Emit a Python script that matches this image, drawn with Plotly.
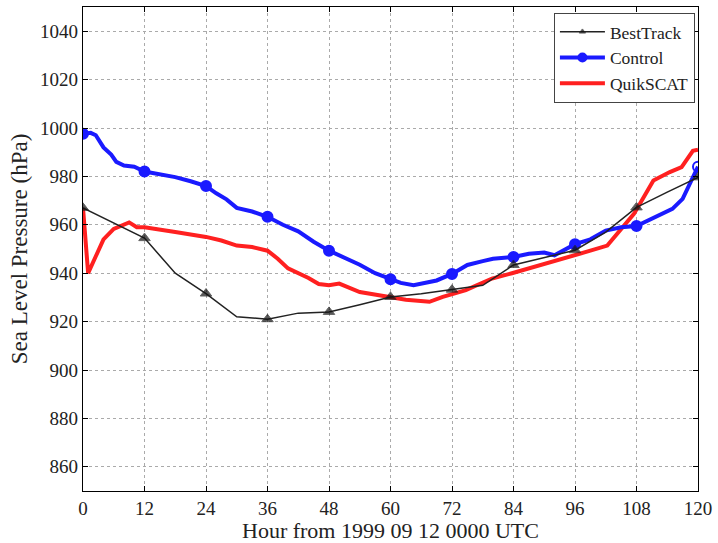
import plotly.graph_objects as go

# BestTrack (6-hourly line, markers every 12 h)
best_hours = [0, 12, 18, 24, 30, 36, 42, 48, 54, 60, 66, 72, 78, 84, 90, 96, 102, 108, 114, 120]
best_vals = [967, 954.5, 940, 931.6, 922, 921, 923.5, 924, 927, 930.2, 931.5, 933.2, 935, 943.4, 946.5, 949.5, 957, 967.2, 973.5, 979.6]

ctrl_hours = [0, 1.5, 2.5, 4, 5.5, 6.5, 8, 10, 12, 15, 18, 21, 24, 26, 28, 30, 33, 36, 39, 42, 45, 48,
              51, 54, 57, 60, 62, 64.5, 67, 69, 72, 75, 78, 80, 84, 87, 90, 92, 96, 99, 102, 105, 108,
              110, 112, 115, 117, 118.7, 120]
ctrl_vals = [997.6, 998, 997, 992, 989, 986, 984.5, 984, 982, 981, 979.7, 978, 976, 973, 970.5, 967, 965.5,
             963.3, 960, 957.3, 953, 949.3, 946.5, 943.5, 940, 937.5, 936, 935, 936, 937, 939.7, 943.4,
             945, 946, 946.7, 948, 948.5, 947.4, 952, 954, 957.6, 959, 959.5, 961.5, 963.8, 966.6, 970.7,
             977.8, 984]

qs_hours = [0, 1, 2.5, 4, 6, 9, 10.5, 12, 18, 24, 27, 30, 33, 36, 38, 40, 44, 46, 48, 50, 54, 57, 60, 63,
            67.6, 70.2, 74.7, 79.8, 83.7, 89.5, 95.9, 99, 102.3, 104.2, 107.5, 109.4, 111.3, 114.5,
            116.8, 119, 120]
qs_vals = [967, 940, 947, 954, 958.3, 961, 959, 959, 957, 955, 953.5, 951.4, 950.8, 949.3, 946, 942, 938,
           935.5, 935, 935.7, 932.2, 931, 930.2, 929, 928.2, 930.2, 933, 937.8, 940, 943.4, 947.4, 949.3,
           951.4, 956.2, 964.5, 971.4, 978.3, 981.8, 983.8, 990.6, 991]

x_ticks = list(range(0, 121, 12))
y_ticks = list(range(860, 1041, 20))

FONT = "Liberation Serif, Times New Roman, serif"
BLUE = "#1a1aff"
RED = "#ff2020"
BLACK = "#111111"

ctrl_marker_hours = [h for h in ctrl_hours if h % 12 == 0]
ctrl_marker_vals = [v for h, v in zip(ctrl_hours, ctrl_vals) if h % 12 == 0]
best_sizes = [10 if h % 12 == 0 else 0 for h in best_hours]
ctrl_symbols = ["circle"] * (len(ctrl_marker_hours) - 1) + ["circle-open"]

fig = go.Figure()
fig.add_trace(go.Scatter(x=qs_hours, y=qs_vals, mode="lines", name="QuikSCAT",
                         line=dict(color=RED, width=4), legendrank=3))
fig.add_trace(go.Scatter(x=ctrl_hours, y=ctrl_vals, mode="lines", name="Control",
                         line=dict(color=BLUE, width=4), showlegend=False, legendgroup="c"))
fig.add_trace(go.Scatter(x=ctrl_marker_hours, y=ctrl_marker_vals, mode="markers", name="Control",
                         marker=dict(size=10, color=BLUE, symbol=ctrl_symbols, line=dict(width=2, color=BLUE)),
                         showlegend=False, legendgroup="c"))
fig.add_trace(go.Scatter(x=[None], y=[None], mode="lines+markers", name="Control",
                         line=dict(color=BLUE, width=4),
                         marker=dict(size=10, color=BLUE), legendgroup="c", legendrank=2))
fig.add_trace(go.Scatter(x=best_hours, y=best_vals, mode="lines+markers", name="BestTrack",
                         line=dict(color="#222222", width=1.5),
                         marker=dict(symbol="triangle-up", size=best_sizes, color=BLACK),
                         legendrank=1))

axis_common = dict(showline=True, linecolor="black", linewidth=1.2, mirror="ticks",
                   ticks="inside", ticklen=5, tickcolor="black",
                   showgrid=True, gridcolor="#aaaaaa", griddash="dot", gridwidth=1,
                   zeroline=False, tickfont=dict(family=FONT, size=19, color="#222"))

fig.update_layout(
    width=718, height=543,
    margin=dict(l=83, r=13, t=6, b=52),
    paper_bgcolor="white", plot_bgcolor="white",
    xaxis=dict(range=[0, 120], tickvals=x_ticks, ticktext=[str(t) for t in x_ticks],
               ticklabeloverflow="allow",
               title=dict(text="Hour from 1999 09 12 0000 UTC", font=dict(family=FONT, size=22, color="#222"),
                          standoff=0),
               **axis_common),
    yaxis=dict(range=[850, 1050], tickvals=y_ticks, ticktext=[str(t) for t in y_ticks],
               title=dict(text="Sea Level Pressure (hPa)", font=dict(family=FONT, size=23, color="#222"),
                          standoff=6),
               **axis_common),
    legend=dict(x=0.995, y=0.988, xanchor="right", yanchor="top",
                bgcolor="white", bordercolor="#444", borderwidth=1,
                font=dict(family=FONT, size=17.5, color="#222"),
                tracegroupgap=0, itemwidth=45),
    showlegend=True,
)

fig.write_html("out.html")
